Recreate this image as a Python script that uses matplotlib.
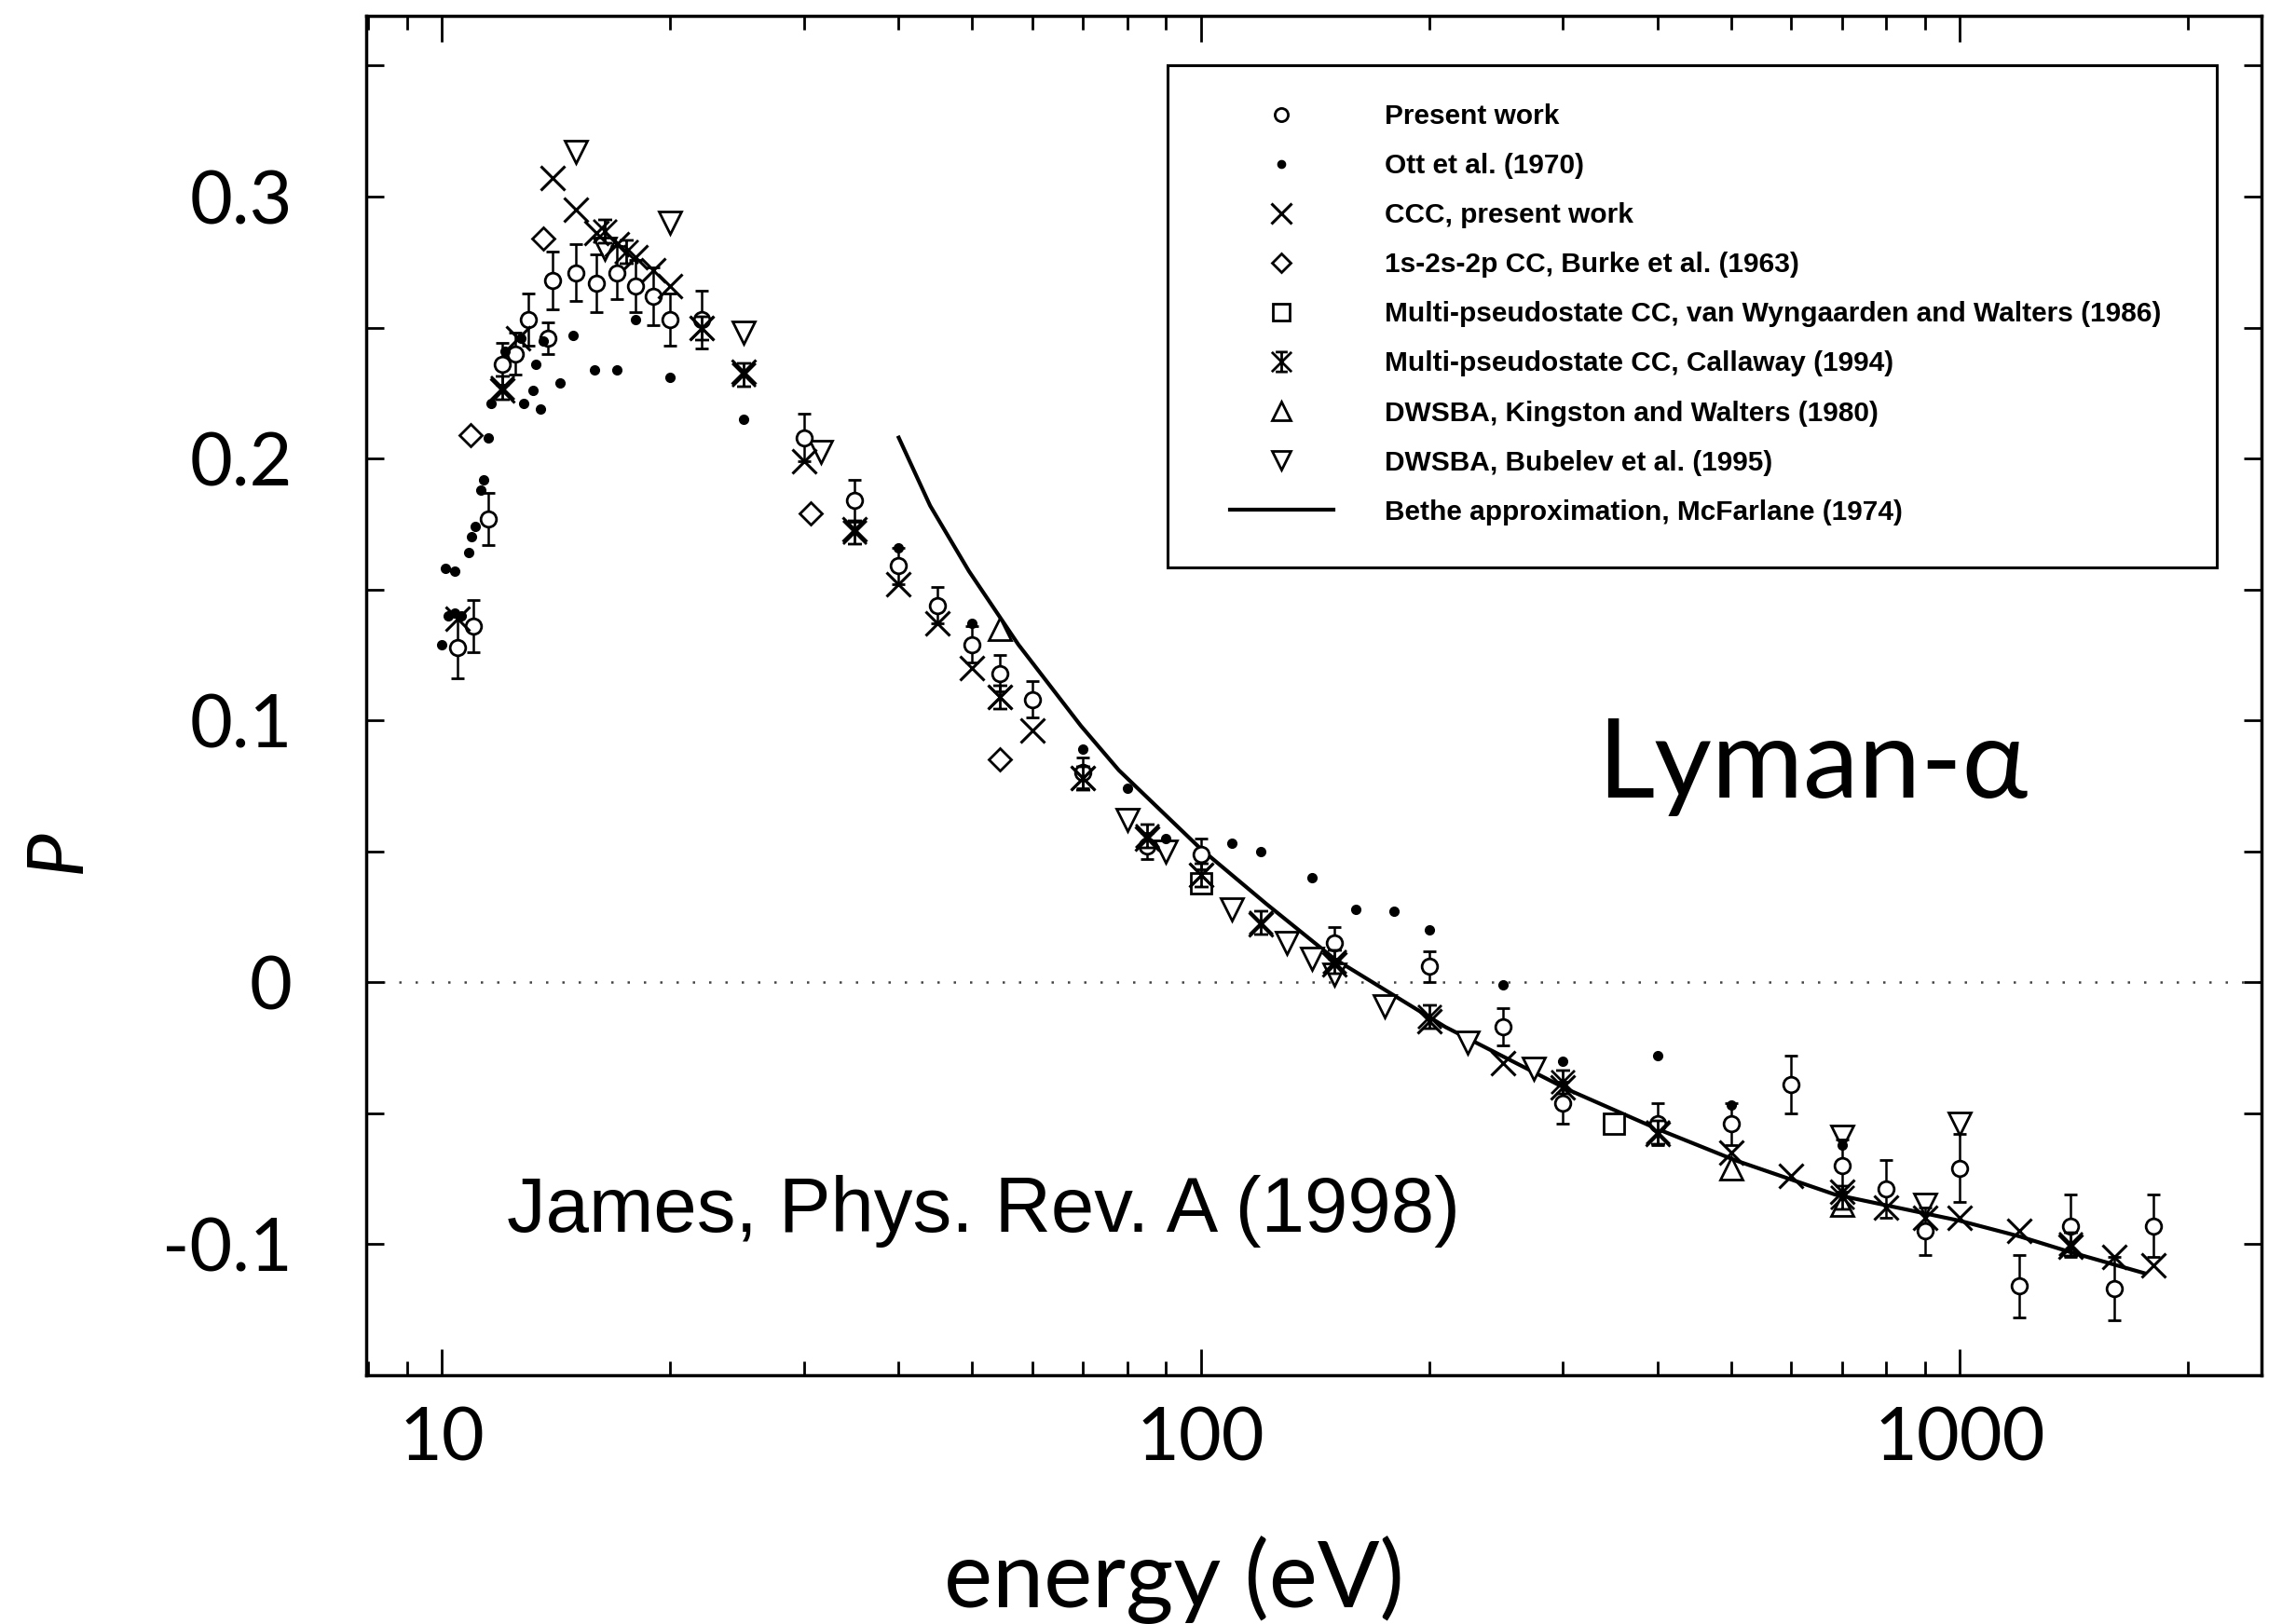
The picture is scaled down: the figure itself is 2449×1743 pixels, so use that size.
import matplotlib
matplotlib.use("Agg")
import matplotlib.pyplot as plt
from matplotlib.path import Path
from matplotlib.lines import Line2D
from matplotlib.patches import Rectangle
from matplotlib.ticker import FixedLocator, MultipleLocator, LogLocator, NullFormatter

plt.rcParams['axes.unicode_minus'] = False

# present work, measured polarization with error bars
present_E = [10.5, 11.0, 11.5, 12.0, 12.5, 13.0, 13.8, 14.0, 15.0, 16.0,
             17.0, 18.0, 19.0, 20.0, 22.0, 30.0, 35.0, 40.0, 45.0, 50.0,
             54.4, 60.0, 70.0, 85.0, 100.0, 150.0, 200.0, 250.0, 300.0, 400.0,
             500.0, 600.0, 700.0, 800.0, 900.0, 1000.0, 1200.0, 1400.0, 1600.0, 1800.0]
present_P = [0.128, 0.136, 0.177, 0.236, 0.240, 0.253, 0.246, 0.268, 0.271, 0.267,
             0.271, 0.266, 0.262, 0.253, 0.253, 0.208, 0.184, 0.159, 0.144, 0.129,
             0.118, 0.108, 0.080, 0.052, 0.049, 0.015, 0.006, -0.017, -0.046, -0.054,
             -0.054, -0.039, -0.070, -0.079, -0.095, -0.071, -0.116, -0.093, -0.117, -0.093]
present_err = [0.012, 0.010, 0.010, 0.008, 0.008, 0.010, 0.006, 0.011, 0.011, 0.011,
               0.010, 0.010, 0.011, 0.010, 0.011, 0.009, 0.008, 0.007, 0.007, 0.007,
               0.007, 0.007, 0.006, 0.005, 0.006, 0.006, 0.006, 0.007, 0.008, 0.008,
               0.008, 0.011, 0.010, 0.011, 0.009, 0.013, 0.012, 0.012, 0.012, 0.012]

# Ott et al. (1970)
ott_E = [10.0, 10.2, 10.4, 10.6, 10.1, 10.4, 10.85, 10.95, 11.05, 11.25,
         11.35, 11.5, 11.6, 12.1, 12.7, 12.8, 13.2, 13.3, 13.5, 13.6,
         14.3, 14.9, 15.9, 17.0, 18.0, 20.0, 25.0, 40.0, 50.0, 70.0,
         80.0, 90.0, 110.0, 120.0, 140.0, 160.0, 180.0, 200.0, 250.0, 300.0,
         400.0, 500.0, 700.0]
ott_P = [0.129, 0.140, 0.141, 0.140, 0.158, 0.157, 0.164, 0.170, 0.174, 0.188,
         0.192, 0.208, 0.221, 0.241, 0.246, 0.221, 0.226, 0.236, 0.219, 0.245,
         0.229, 0.247, 0.234, 0.234, 0.253, 0.231, 0.215, 0.166, 0.137, 0.089,
         0.074, 0.055, 0.053, 0.050, 0.040, 0.028, 0.027, 0.020, -0.001, -0.030,
         -0.028, -0.047, -0.062]

# CCC, present work
ccc_E = [10.5, 12.0, 12.6, 14.0, 15.0, 16.0, 17.0, 18.0, 19.0, 20.0,
         22.0, 25.0, 30.0, 35.0, 40.0, 45.0, 50.0, 54.4, 60.0, 70.0,
         85.0, 100.0, 120.0, 150.0, 200.0, 250.0, 300.0, 400.0, 500.0, 600.0,
         700.0, 800.0, 900.0, 1000.0, 1200.0, 1400.0, 1600.0, 1800.0]
ccc_P = [0.139, 0.226, 0.246, 0.307, 0.295, 0.286, 0.282, 0.277, 0.272, 0.266,
         0.250, 0.233, 0.199, 0.173, 0.152, 0.137, 0.120, 0.109, 0.096, 0.078,
         0.055, 0.041, 0.022, 0.007, -0.015, -0.031, -0.040, -0.058, -0.065, -0.074,
         -0.080, -0.086, -0.090, -0.090, -0.095, -0.101, -0.105, -0.108]

# 1s-2s-2p CC, Burke et al. (1963)
burke_E = [10.9, 13.6, 30.6, 54.4]
burke_P = [0.209, 0.284, 0.179, 0.085]

# multi-pseudostate CC, van Wyngaarden and Walters (1986)
vww_E = [100.0, 350.0]
vww_P = [0.038, -0.054]

# multi-pseudostate CC, Callaway (1994)
callaway_E = [12.0, 16.4, 17.5, 22.0, 25.0, 35.0, 54.4, 70.0, 85.0, 100.0,
              120.0, 150.0, 200.0, 300.0, 400.0, 700.0, 1400.0]
callaway_P = [0.227, 0.287, 0.279, 0.250, 0.232, 0.172, 0.109, 0.078, 0.056, 0.041,
              0.023, 0.008, -0.013, -0.038, -0.057, -0.082, -0.100]

# DWSBA, Kingston and Walters (1980)
kingston_E = [54.4, 500.0, 700.0]
kingston_P = [0.135, -0.071, -0.085]

# DWSBA, Bubelev et al. (1995)
bubelev_E = [15.0, 16.4, 20.0, 25.0, 31.6, 80.0, 90.0, 110.0, 130.0, 140.0,
             150.0, 175.0, 225.0, 275.0, 700.0, 900.0, 1000.0]
bubelev_P = [0.317, 0.280, 0.290, 0.248, 0.2025, 0.062, 0.050, 0.028, 0.015, 0.009,
             0.003, -0.009, -0.023, -0.033, -0.059, -0.085, -0.054]

# Bethe approximation, McFarlane (1974)
bethe_E = [40, 44, 49.5, 57.5, 69.5, 78, 100, 122, 150, 210,
           305, 400, 507, 685, 1000, 1200, 1400, 1750]
bethe_P = [0.208, 0.182, 0.157, 0.129, 0.098, 0.081, 0.051, 0.030, 0.009, -0.017,
           -0.041, -0.056, -0.068, -0.081, -0.091, -0.097, -0.103, -0.111]

legend_labels = ["Present work",
                 "Ott et al. (1970)",
                 "CCC, present work",
                 "1s-2s-2p CC, Burke et al. (1963)",
                 "Multi-pseudostate CC, van Wyngaarden and Walters (1986)",
                 "Multi-pseudostate CC, Callaway (1994)",
                 "DWSBA, Kingston and Walters (1980)",
                 "DWSBA, Bubelev et al. (1995)",
                 "Bethe approximation, McFarlane (1974)"]

y_ticks = [-0.1, 0.0, 0.1, 0.2, 0.3]
y_ticklabels = ["-0.1", "0", "0.1", "0.2", "0.3"]
x_ticks = [10, 100, 1000]
x_ticklabels = ["10", "100", "1000"]

# X with a stem and caps, the Callaway symbol
cal_marker = Path([(-1, -1), (1, 1), (-1, 1), (1, -1), (0, -1), (0, 1),
                   (-0.6, 1), (0.6, 1), (-0.6, -1), (0.6, -1)],
                  [Path.MOVETO, Path.LINETO] * 5)

SANS = ['Lato', 'DejaVu Sans']
K = 'black'

styles = [
    dict(marker='o', ms=12, mfc='white', mec=K, mew=2.0),
    dict(marker='o', ms=7, mfc=K, mec=K, mew=1.0),
    dict(marker='x', ms=19, mec=K, mew=2.2),
    dict(marker='D', ms=12, mfc='white', mec=K, mew=2.0),
    dict(marker='s', ms=16, mfc='white', mec=K, mew=2.0),
    dict(marker=cal_marker, ms=18, mfc='none', mec=K, mew=2.0),
    dict(marker='^', ms=17, mfc='white', mec=K, mew=2.0),
    dict(marker='v', ms=17, mfc='white', mec=K, mew=2.0),
]

fig = plt.figure(figsize=(24.49, 17.43), dpi=100)
ax = fig.add_axes([0.1605, 0.1532, 0.8305, 0.837])

ax.axhline(0, color='#444444', lw=1.8, ls=(0, (1, 6)), zorder=1)

ax.plot(bethe_E, bethe_P, color=K, lw=3.0, zorder=2)
ax.plot(burke_E, burke_P, ls='none', zorder=3, **styles[3])
ax.plot(vww_E, vww_P, ls='none', zorder=3, **styles[4])
ax.plot(kingston_E, kingston_P, ls='none', zorder=3, **styles[6])
ax.plot(bubelev_E, bubelev_P, ls='none', zorder=3, **styles[7])
ax.errorbar(present_E, present_P, yerr=present_err, ls='none', ecolor=K,
            elinewidth=1.8, capsize=5, capthick=1.8, zorder=4, **styles[0])
ax.plot(ott_E, ott_P, ls='none', zorder=5, **styles[1])
ax.plot(callaway_E, callaway_P, ls='none', zorder=5, **styles[5])
ax.plot(ccc_E, ccc_P, ls='none', zorder=5, **styles[2])

ax.set_xscale('log')
ax.set_xlim(7.95, 2500)
ax.set_ylim(-0.15, 0.369)

ax.xaxis.set_major_locator(FixedLocator(x_ticks))
ax.set_xticklabels(x_ticklabels)
ax.xaxis.set_minor_locator(LogLocator(base=10, subs=range(2, 10)))
ax.xaxis.set_minor_formatter(NullFormatter())
ax.yaxis.set_major_locator(FixedLocator(y_ticks))
ax.set_yticklabels(y_ticklabels)
ax.yaxis.set_minor_locator(MultipleLocator(0.05))

ax.tick_params(which='both', direction='in', top=True, right=True, width=2.0, color=K)
ax.tick_params(axis='x', which='major', length=20, pad=24, labelsize=57, labelfontfamily='Lato')
ax.tick_params(axis='x', which='minor', length=11)
ax.tick_params(axis='y', which='both', length=14)
ax.tick_params(axis='y', which='major', pad=57, labelsize=57, labelfontfamily='Lato')
for s in ax.spines.values():
    s.set_linewidth(2.5)

fig.text(0.5145, 0.027, "energy (eV)", family=SANS, fontsize=71, ha='center', va='center')
fig.text(0.0253, 0.4756, "P", family=SANS, style='italic', fontsize=60,
         rotation=90, ha='center', va='center')

ax.text(0.763, 0.4476, "Lyman-α", transform=ax.transAxes, family=SANS, fontsize=86,
        ha='center', va='center')
ax.text(0.0742, 0.1206, "James, Phys. Rev. A (1998)", transform=ax.transAxes,
        family=['Liberation Sans', 'DejaVu Sans'], fontsize=60, ha='left', va='center')

# legend box drawn by hand, entries placed inside it
ax.add_patch(Rectangle((0.4228, 0.5942), 0.5536, 0.3695, transform=ax.transAxes,
                       fill=False, ec=K, lw=2.2, zorder=6))
handles = [Line2D([], [], ls='none', **st) for st in styles]
handles.append(Line2D([], [], color=K, lw=3.0))
ax.legend(handles, legend_labels, loc='upper left', bbox_to_anchor=(0.4558, 0.9356),
          frameon=False, borderpad=0, borderaxespad=0, numpoints=1,
          handlelength=3.7, handletextpad=1.85, labelspacing=0.84,
          markerscale=0.85, prop={'family': 'Liberation Sans', 'size': 21.5, 'weight': 'bold'})

fig.savefig("out.png", dpi=100)
